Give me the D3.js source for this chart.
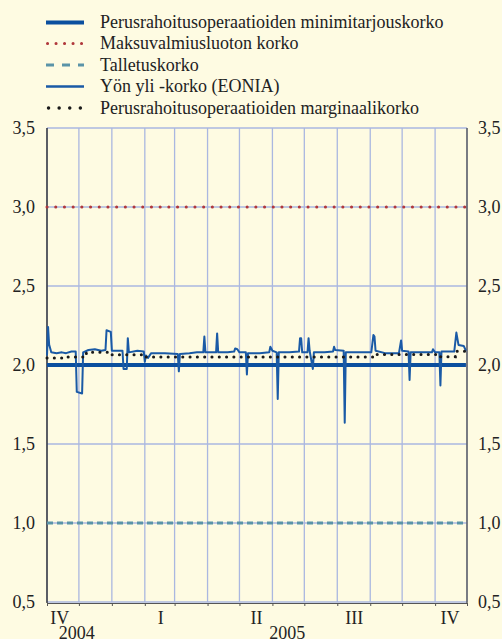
<!DOCTYPE html>
<html><head><meta charset="utf-8">
<script src="https://cdn.jsdelivr.net/npm/d3@7"></script>
<style>body{margin:0;background:#fefbe2}svg{display:block}</style>
</head><body><svg id="c" width="502" height="639"></svg>
<script>
// ---------- DATA ----------
const legendLabels = [
  "Perusrahoitusoperaatioiden minimitarjouskorko",
  "Maksuvalmiusluoton korko",
  "Talletuskorko",
  "Yön yli -korko (EONIA)",
  "Perusrahoitusoperaatioiden marginaalikorko"
];
const yTicks = [0.5, 1.0, 1.5, 2.0, 2.5, 3.0, 3.5];
const quarterLabels = ["IV", "I", "II", "III", "IV"];
const quarterMidDates = ["2004-11-13", "2005-02-16", "2005-05-17", "2005-08-17", "2005-11-15"];
const yearLabels = ["2004", "2005"];
const yearLabelDates = ["2004-11-29", "2005-06-15"];
const periodStart = "2004-11-01", periodEnd = "2005-12-01";

const policyDates = ["2004-11-01", "2005-11-30"];
const minBidRate = [2.0, 2.0];
const marginalLendingRate = [3.0, 3.0];
const depositRate = [1.0, 1.0];

const eoniaDates = [
 "2004-11-01","2004-11-02","2004-11-03","2004-11-05","2004-11-10","2004-11-15","2004-11-19","2004-11-24","2004-11-28",
 "2004-11-29","2004-12-04","2004-12-05","2004-12-10","2004-12-16","2004-12-22","2004-12-26","2004-12-27","2004-12-31",
 "2005-01-01","2005-01-11","2005-01-12","2005-01-15","2005-01-16","2005-01-17","2005-01-25","2005-01-31","2005-02-01",
 "2005-02-02","2005-02-04","2005-02-07","2005-02-20","2005-03-04","2005-03-05","2005-03-06","2005-03-15","2005-03-22",
 "2005-03-28","2005-03-29","2005-03-30","2005-04-09","2005-04-10","2005-04-11","2005-04-20","2005-04-26","2005-04-27",
 "2005-04-29","2005-05-01","2005-05-07","2005-05-08","2005-05-09","2005-05-20","2005-05-29","2005-05-30","2005-06-01",
 "2005-06-05","2005-06-06","2005-06-07","2005-06-17","2005-06-26","2005-06-27","2005-06-28","2005-06-29","2005-07-04",
 "2005-07-05","2005-07-06","2005-07-09","2005-07-10","2005-07-20","2005-07-28","2005-07-29","2005-07-30","2005-08-07",
 "2005-08-08","2005-08-09","2005-08-20","2005-09-02","2005-09-04","2005-09-05","2005-09-06","2005-09-15","2005-09-28",
 "2005-09-30","2005-10-01","2005-10-07","2005-10-08","2005-10-09","2005-10-20","2005-10-29","2005-10-30","2005-11-01",
 "2005-11-05","2005-11-06","2005-11-07","2005-11-19","2005-11-21","2005-11-23","2005-11-28","2005-11-30"
];
const eoniaValues = [
 2.06,2.24,2.13,2.08,2.075,2.08,2.075,2.085,2.085,
 1.83,1.82,2.08,2.095,2.10,2.09,2.095,2.22,2.21,
 2.09,2.09,1.975,1.975,2.17,2.08,2.09,2.085,2.02,
 2.06,2.045,2.075,2.075,2.07,1.96,2.07,2.075,2.08,
 2.08,2.18,2.08,2.08,2.20,2.08,2.08,2.085,2.105,
 2.10,2.08,2.08,1.94,2.075,2.075,2.08,2.115,2.09,
 2.08,1.785,2.08,2.08,2.085,2.17,2.17,2.08,2.08,
 2.17,2.09,1.975,2.08,2.08,2.085,2.115,2.095,2.09,
 1.635,2.08,2.08,2.08,2.19,2.18,2.09,2.075,2.075,
 2.155,2.09,2.085,1.905,2.08,2.08,2.08,2.10,2.08,
 2.08,1.87,2.085,2.085,2.205,2.127,2.12,2.09
];

const mroMarginalDates = ["2004-11-01","2004-11-17","2004-12-08","2004-12-29","2005-02-02","2005-09-07","2005-11-02","2005-11-20","2005-11-30"];
const mroMarginalValues = [2.045, 2.05, 2.08, 2.065, 2.05, 2.067, 2.053, 2.087, 2.087];

// ---------- CHART ----------
(function () {
const parse = d3.timeParse("%Y-%m-%d");
const svg = d3.select("#c");
const W = 502, H = 639;
const pL = 47, pR = 467, pT = 128, pB = 602;
const FONT = '"Liberation Serif"';
const FS = "18px";
const col = {
  bg: "#fefbe2", grid: "#aab7e0", minBid: "#0b4f9e", marginal: "#b0383c",
  deposit: "#5a94a8", eonia: "#1a5aa6", mro: "#1a1a1a", text: "#222"
};
const styleText = sel => sel.style("font-family", FONT).style("font-size", FS).attr("fill", col.text);

svg.append("rect").attr("width", W).attr("height", H).attr("fill", col.bg);

const x = d3.scaleTime().domain([parse(periodStart), parse(periodEnd)]).range([pL, pR]);
const y = d3.scaleLinear().domain([0.5, 3.5]).range([pB, pT]);
const fmt = v => d3.format(".1f")(v).replace(".", ",");

// grid
const months = d3.timeMonth.range(parse(periodStart), d3.timeDay.offset(parse(periodEnd), 1));
svg.append("g").selectAll("line").data(months).join("line")
  .attr("x1", d => x(d)).attr("x2", d => x(d)).attr("y1", pT).attr("y2", pB)
  .attr("stroke", col.grid).attr("stroke-width", 1.3);
svg.append("g").selectAll("line").data(yTicks).join("line")
  .attr("x1", pL).attr("x2", pR).attr("y1", d => y(d)).attr("y2", d => y(d))
  .attr("stroke", col.grid).attr("stroke-width", 1.3);

// axes
const axL = svg.append("g").attr("transform", `translate(${pL},0)`)
  .call(d3.axisLeft(y).tickValues(yTicks).tickFormat(fmt).tickSize(0).tickPadding(12));
const axR = svg.append("g").attr("transform", `translate(${pR},0)`)
  .call(d3.axisRight(y).tickValues(yTicks).tickFormat(fmt).tickSize(0).tickPadding(11));
[axL, axR].forEach(a => {
  a.select(".domain").remove();
  a.attr("font-family", null).attr("font-size", null);
  a.selectAll("text").call(styleText);
});
svg.append("line").attr("x1", pL).attr("x2", pL).attr("y1", pT).attr("y2", pB + 1)
  .attr("stroke", "#111").attr("stroke-width", 1.2);
svg.append("line").attr("x1", pR).attr("x2", pR).attr("y1", pT).attr("y2", pB + 1)
  .attr("stroke", "#444").attr("stroke-width", 1.2);

const axB = svg.append("g").attr("transform", `translate(0,${pB + 1})`)
  .call(d3.axisBottom(x).tickValues(months).tickSize(3).tickSizeOuter(3).tickFormat(""));
axB.select(".domain").attr("stroke", "#555").attr("stroke-width", 1);
axB.selectAll(".tick line").attr("stroke", "#555");

svg.append("g").selectAll("text").data(quarterLabels).join("text")
  .attr("x", (d, i) => x(parse(quarterMidDates[i]))).attr("y", 624)
  .attr("text-anchor", "middle").call(styleText).text(d => d);
svg.append("g").selectAll("text").data(yearLabels).join("text")
  .attr("x", (d, i) => x(parse(yearLabelDates[i]))).attr("y", 639)
  .attr("text-anchor", "middle").call(styleText).text(d => d);

// series
const line = d3.line().x(d => x(d[0])).y(d => y(d[1]));
const zip = (ds, vs) => ds.map((d, i) => [parse(d), vs[i]]);

svg.append("path").datum(zip(policyDates, depositRate)).attr("d", line)
  .attr("fill", "none").attr("stroke", col.deposit).attr("stroke-width", 3).attr("stroke-dasharray", "6,4");
svg.append("path").datum(zip(policyDates, marginalLendingRate)).attr("d", line)
  .attr("fill", "none").attr("stroke", col.marginal).attr("stroke-width", 3)
  .attr("stroke-linecap", "round").attr("stroke-dasharray", "0.1,8.6");
svg.append("path").datum(zip(policyDates, minBidRate)).attr("d", line)
  .attr("fill", "none").attr("stroke", col.minBid).attr("stroke-width", 4);
svg.append("path").datum(zip(eoniaDates, eoniaValues)).attr("d", line)
  .attr("fill", "none").attr("stroke", col.eonia).attr("stroke-width", 2).attr("stroke-linejoin", "round");
const stepLine = d3.line().x(d => x(d[0])).y(d => y(d[1])).curve(d3.curveStepAfter);
svg.append("path").datum(zip(mroMarginalDates, mroMarginalValues)).attr("d", stepLine)
  .attr("fill", "none").attr("stroke", col.mro).attr("stroke-width", 3)
  .attr("stroke-linecap", "round").attr("stroke-dasharray", "0.1,7.2");

// legend
const legY = [22.5, 43.5, 65, 86.5, 108];
const lg = svg.append("g");
const sx1 = 46, sx2 = 84;
const styles = [
  {stroke: col.minBid, w: 4, dash: null, cap: "butt"},
  {stroke: col.marginal, w: 3, dash: "0.1,8.4", cap: "round", x1: 47.5},
  {stroke: col.deposit, w: 3, dash: "8,8", cap: "butt"},
  {stroke: col.eonia, w: 2.7, dash: null, cap: "butt"},
  {stroke: col.mro, w: 3.4, dash: "0.1,10.5", cap: "round", x1: 48.5}
];
legendLabels.forEach((t, i) => {
  const s = styles[i];
  lg.append("line").attr("x1", s.x1 || sx1).attr("x2", sx2).attr("y1", legY[i]).attr("y2", legY[i])
    .attr("stroke", s.stroke).attr("stroke-width", s.w).attr("stroke-dasharray", s.dash)
    .attr("stroke-linecap", s.cap);
  lg.append("text").attr("x", 100).attr("y", legY[i] + 5.5).call(styleText).text(t);
});
})();
</script></body></html>
